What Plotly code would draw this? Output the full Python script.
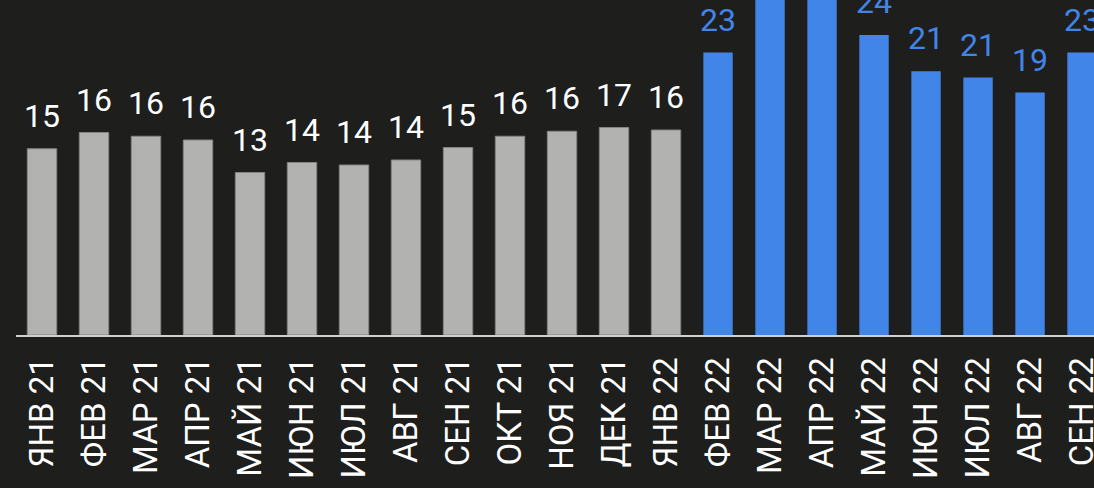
import plotly.graph_objects as go

gray_months = ["ЯНВ 21", "ФЕВ 21", "МАР 21", "АПР 21", "МАЙ 21", "ИЮН 21", "ИЮЛ 21",
               "АВГ 21", "СЕН 21", "ОКТ 21", "НОЯ 21", "ДЕК 21", "ЯНВ 22"]
gray_values = [14.9, 16.2, 15.9, 15.6, 13.0, 13.8, 13.6, 14.0, 15.0, 15.9, 16.3, 16.6, 16.4]

blue_months = ["ФЕВ 22", "МАР 22", "АПР 22", "МАЙ 22", "ИЮН 22", "ИЮЛ 22", "АВГ 22", "СЕН 22"]
blue_values = [22.6, 28.0, 29.0, 24.0, 21.1, 20.6, 19.4, 22.6]

categories = gray_months + blue_months

BG = "#1e1e1d"
GRAY = "#b2b2b1"
BLUE = "#4285e8"
FONT = "Roboto"

fig = go.Figure()
fig.add_trace(go.Bar(x=gray_months, y=gray_values, width=0.565, hoverinfo="skip",
                     marker=dict(color=GRAY, line=dict(color="#858585", width=1))))
fig.add_trace(go.Bar(x=blue_months, y=blue_values, width=0.565, hoverinfo="skip",
                     marker=dict(color=BLUE, line=dict(width=0))))

for m, v in zip(gray_months, gray_values):
    fig.add_annotation(x=m, y=v, text=f"{v:.0f}", showarrow=False, yanchor="bottom",
                       yshift=12, font=dict(family=FONT, size=32, color="#ffffff"))
for m, v in zip(blue_months, blue_values):
    fig.add_annotation(x=m, y=v, text=f"{v:.0f}", showarrow=False, yanchor="bottom",
                       yshift=12, font=dict(family=FONT, size=32, color=BLUE))

fig.update_layout(
    width=1094, height=488,
    margin=dict(l=16, r=0, t=0, b=153, autoexpand=False),
    paper_bgcolor=BG, plot_bgcolor=BG,
    barmode="overlay", showlegend=False,
    font=dict(family=FONT, color="#ffffff"),
)
fig.update_xaxes(type="category", categoryorder="array", categoryarray=categories,
                 range=[-0.5, 20.23], tickangle=-90, showgrid=False, zeroline=False,
                 showline=True, linecolor="#d0d0d0", linewidth=2, ticks="",
                 automargin=False,
                 tickfont=dict(family=FONT, size=33, color="#ffffff"),
                 ticklabelstandoff=7)
fig.update_yaxes(range=[0, 26.8], visible=False, showgrid=False, zeroline=False,
                 automargin=False)

fig.write_html(
    "out.html",
    config={"displayModeBar": False},
    post_script="document.body.style.margin='0';document.body.style.background='%s';" % BG,
)
